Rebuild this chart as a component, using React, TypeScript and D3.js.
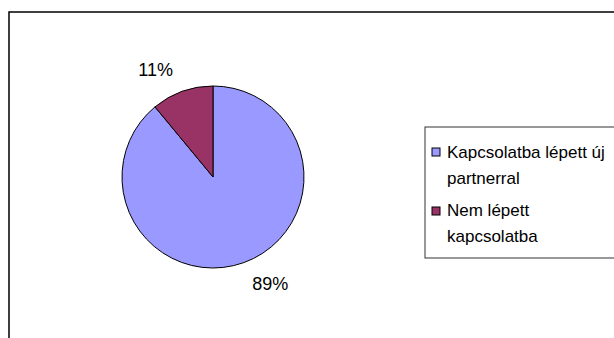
import React from "react";
import * as d3 from "d3";

const categories = ["Kapcsolatba lépett új partnerral", "Nem lépett kapcsolatba"];
const legendLines = [["Kapcsolatba lépett új", "partnerral"], ["Nem lépett", "kapcsolatba"]];
const values = [89, 11];
const colors = ["#9999FF", "#993366"];

export default function App() {
  const W = 614, H = 338;
  const cx = 213, cy = 177, r = 91;
  const pie = d3.pie<number>().sort(null).value((d) => d)(values);
  const arc = d3.arc<d3.PieArcDatum<number>>().innerRadius(0).outerRadius(r);
  const total = d3.sum(values);
  const font = "Liberation Sans, Arial, sans-serif";
  const labelR = 121;
  const labelShift = (-8.5 * Math.PI) / 180;
  return (
    <svg width={W} height={H} style={{ position: "absolute", left: 0, top: 0 }} fontFamily={font}>
      <rect x={0} y={0} width={W} height={H} fill="#fff" />
      <rect x={9} y={12} width={W + 20} height={H + 20} fill="none" stroke="#000" strokeWidth={1.5} />
      <g transform={`translate(${cx},${cy})`}>
        {pie.map((p, i) => (
          <path key={i} d={arc(p) || ""} fill={colors[i]} stroke="#000" strokeWidth={1} />
        ))}
        {pie.map((p, i) => {
          const a = (p.startAngle + p.endAngle) / 2 + labelShift;
          const lx = Math.sin(a) * labelR;
          const ly = -Math.cos(a) * labelR;
          return (
            <text key={i} x={lx} y={ly} textAnchor="middle" dominantBaseline="central" fontSize={18} fill="#000">
              {Math.round((p.value / total) * 100)}%
            </text>
          );
        })}
      </g>
      <rect x={425} y={127} width={200} height={131} fill="#fff" stroke="#333" strokeWidth={1} />
      {categories.map((c, i) => (
        <g key={c}>
          <rect x={432} y={148 + i * 59} width={8} height={8} fill={colors[i]} stroke="#000" strokeWidth={1} />
          {legendLines[i].map((ln, j) => (
            <text key={j} x={447} y={158 + i * 58 + j * 26} fontSize={17} fill="#000">{ln}</text>
          ))}
        </g>
      ))}
    </svg>
  );
}
